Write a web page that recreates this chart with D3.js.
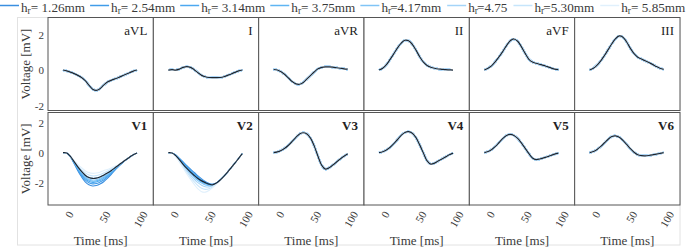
<!DOCTYPE html>
<html><head><meta charset="utf-8">
<script src="https://cdn.jsdelivr.net/npm/d3@7"></script>
<style>
html,body{margin:0;padding:0;background:#fff;}
svg{display:block;}
</style></head>
<body>
<svg id="chart" width="698" height="249"></svg>
<script>
// ---------------- data ----------------
const time = [0,5,10,15,20,25,30,35,40,45,50,55,60,65,70,75,80,85,90,95,100];
const leadsTop = ["aVL","I","aVR","II","aVF","III"];
const leadsBottom = ["V1","V2","V3","V4","V5","V6"];
const hrValues = ["1.26mm","2.54mm","3.14mm","3.75mm","4.17mm","4.75","5.30mm","5.85mm"];
const hrTight = [false,false,false,false,true,true,true,false];
const hrColors = ["#3a8fe0","#409ce9","#4ca8f0","#5fb5f3","#80c4f6","#a4d4f8","#c6e5fb","#e0f0fc"];
const yTicks = [-2,0,2];
const xTicks = [0,50,100];

// reference (black) traces, mV
const aVL = [0,-0.05,-0.12,-0.2,-0.3,-0.42,-0.6,-0.85,-1.08,-1.15,-1.05,-0.85,-0.68,-0.58,-0.5,-0.42,-0.33,-0.24,-0.15,-0.06,0];
const leadI = [0,0.02,0.0,0.05,0.15,0.19,0.15,0.02,-0.15,-0.3,-0.38,-0.42,-0.43,-0.43,-0.42,-0.38,-0.3,-0.22,-0.13,-0.05,0];
const aVR = [0.03,0.0,-0.1,-0.25,-0.45,-0.65,-0.78,-0.8,-0.7,-0.5,-0.3,-0.1,0.07,0.15,0.18,0.18,0.16,0.13,0.1,0.07,0.05];
const leadII = [0,0.1,0.3,0.6,0.92,1.25,1.52,1.68,1.65,1.45,1.12,0.75,0.45,0.26,0.16,0.1,0.06,0.04,0.02,0.01,0];
const aVF = [0,0.1,0.25,0.48,0.75,1.05,1.38,1.65,1.75,1.62,1.32,0.95,0.62,0.45,0.38,0.32,0.26,0.19,0.12,0.05,0.02];
const leadIII = [0,0.1,0.28,0.52,0.82,1.15,1.48,1.77,1.92,1.85,1.58,1.22,0.92,0.72,0.62,0.52,0.42,0.32,0.2,0.1,0.04];
const V1 = [0,-0.02,-0.25,-0.6,-0.95,-1.25,-1.5,-1.66,-1.72,-1.7,-1.62,-1.5,-1.36,-1.2,-1.02,-0.84,-0.65,-0.47,-0.3,-0.14,-0.02];
const V2 = [0,-0.02,-0.2,-0.48,-0.78,-1.05,-1.3,-1.52,-1.72,-1.88,-2.0,-2.1,-2.14,-2.03,-1.83,-1.58,-1.3,-1.0,-0.7,-0.38,-0.07];
const V3 = [0,0.05,0.15,0.3,0.5,0.75,1.02,1.25,1.33,1.25,0.95,0.42,-0.25,-0.85,-1.1,-1.0,-0.82,-0.62,-0.42,-0.24,-0.08];
const V4 = [0,0.06,0.18,0.36,0.6,0.88,1.15,1.35,1.4,1.3,1.0,0.52,-0.02,-0.55,-0.76,-0.7,-0.56,-0.42,-0.28,-0.14,-0.03];
const V5 = [0,0.08,0.22,0.42,0.68,0.95,1.15,1.22,1.15,0.95,0.65,0.3,-0.05,-0.35,-0.46,-0.42,-0.35,-0.27,-0.19,-0.1,-0.03];
const V6 = [0,0.08,0.22,0.42,0.66,0.9,1.08,1.12,1.03,0.82,0.55,0.27,0.03,-0.14,-0.2,-0.21,-0.19,-0.15,-0.1,-0.05,0];

// V1 traces for each h_r
const V1_126 = [0,-0.02,-0.28,-0.72,-1.20,-1.61,-1.94,-2.14,-2.22,-2.19,-2.09,-1.94,-1.71,-1.46,-1.18,-0.93,-0.69,-0.48,-0.30,-0.14,-0.02];
const V1_254 = [0,-0.02,-0.27,-0.69,-1.13,-1.51,-1.82,-2.01,-2.08,-2.06,-1.96,-1.82,-1.62,-1.39,-1.14,-0.90,-0.68,-0.48,-0.30,-0.14,-0.02];
const V1_314 = [0,-0.02,-0.27,-0.66,-1.08,-1.44,-1.73,-1.91,-1.98,-1.96,-1.86,-1.73,-1.54,-1.34,-1.10,-0.88,-0.67,-0.48,-0.30,-0.14,-0.02];
const V1_375 = [0,-0.02,-0.26,-0.64,-1.04,-1.38,-1.66,-1.83,-1.90,-1.88,-1.79,-1.66,-1.49,-1.29,-1.08,-0.87,-0.66,-0.47,-0.30,-0.14,-0.02];
const V1_417 = [0,-0.02,-0.25,-0.62,-1.00,-1.32,-1.59,-1.76,-1.82,-1.80,-1.71,-1.59,-1.43,-1.25,-1.05,-0.86,-0.65,-0.47,-0.30,-0.14,-0.02];
const V1_475 = [0,-0.02,-0.25,-0.59,-0.94,-1.24,-1.48,-1.64,-1.70,-1.68,-1.60,-1.48,-1.35,-1.19,-1.01,-0.84,-0.65,-0.47,-0.30,-0.14,-0.02];
const V1_530 = [0,-0.02,-0.24,-0.56,-0.86,-1.13,-1.35,-1.49,-1.55,-1.53,-1.46,-1.35,-1.24,-1.11,-0.96,-0.81,-0.64,-0.47,-0.30,-0.14,-0.02];
const V1_585 = [0,-0.02,-0.23,-0.52,-0.78,-1.00,-1.20,-1.33,-1.38,-1.36,-1.30,-1.20,-1.12,-1.02,-0.91,-0.78,-0.62,-0.46,-0.30,-0.14,-0.02];

// V2 traces for each h_r
const V2_126 = [0,-0.02,-0.15,-0.38,-0.62,-0.87,-1.10,-1.32,-1.55,-1.75,-1.92,-2.05,-2.10,-2.02,-1.82,-1.58,-1.30,-1.00,-0.70,-0.38,-0.07];
const V2_254 = [0,-0.02,-0.16,-0.40,-0.66,-0.92,-1.16,-1.40,-1.62,-1.82,-1.98,-2.08,-2.12,-2.02,-1.83,-1.58,-1.30,-1.00,-0.70,-0.38,-0.07];
const V2_314 = [0,-0.02,-0.17,-0.43,-0.70,-0.97,-1.22,-1.46,-1.68,-1.87,-2.02,-2.12,-2.14,-2.03,-1.83,-1.58,-1.30,-1.00,-0.70,-0.38,-0.07];
const V2_375 = [0,-0.02,-0.19,-0.46,-0.75,-1.03,-1.30,-1.55,-1.77,-1.95,-2.08,-2.15,-2.14,-2.03,-1.83,-1.58,-1.30,-1.00,-0.70,-0.38,-0.07];
const V2_417 = [0,-0.02,-0.20,-0.50,-0.80,-1.10,-1.38,-1.64,-1.86,-2.03,-2.15,-2.20,-2.16,-2.04,-1.84,-1.58,-1.30,-1.00,-0.70,-0.38,-0.07];
const V2_475 = [0,-0.02,-0.22,-0.54,-0.87,-1.20,-1.50,-1.78,-2.00,-2.17,-2.27,-2.28,-2.20,-2.06,-1.85,-1.58,-1.30,-1.00,-0.70,-0.38,-0.07];
const V2_530 = [0,-0.02,-0.24,-0.58,-0.94,-1.30,-1.63,-1.94,-2.20,-2.38,-2.45,-2.40,-2.27,-2.08,-1.86,-1.58,-1.30,-1.00,-0.70,-0.38,-0.07];
const V2_585 = [0,-0.02,-0.26,-0.63,-1.02,-1.42,-1.78,-2.12,-2.42,-2.60,-2.63,-2.52,-2.33,-2.10,-1.87,-1.58,-1.30,-1.00,-0.70,-0.38,-0.07];

const refTraces = {aVL:aVL, I:leadI, aVR:aVR, II:leadII, aVF:aVF, III:leadIII, V1:V1, V2:V2, V3:V3, V4:V4, V5:V5, V6:V6};
// per-h_r traces; where the simulations coincide with the reference, the reference trace is reused
const variantTraces = {
  V1:[V1_126,V1_254,V1_314,V1_375,V1_417,V1_475,V1_530,V1_585],
  V2:[V2_126,V2_254,V2_314,V2_375,V2_417,V2_475,V2_530,V2_585]
};

// ---------------- layout ----------------
const FONT = "'Liberation Serif', serif";
const svg = d3.select("#chart").attr("font-family", FONT);
const left = 48, right = 680, nCols = 6;
const colW = (right-left)/nCols;
const rows = [
  {leads: leadsTop, top: 17.5, bottom: 110.5, ydom: [-2.28, 2.96], bold:false},
  {leads: leadsBottom, top: 112.5, bottom: 205, ydom: [-3.49, 2.68], bold:true}
];
const xDomain = [-20.3, 122.1];
const ink = "#1c2530";
const frame = "#555";
const txt = "#3a3a3a";

// outer light frame
svg.append("rect").attr("x",17.5).attr("y",17.5).attr("width",680-17.5).attr("height",245-17.5)
  .attr("fill","none").attr("stroke","#e2e2e2").attr("stroke-width",1);

rows.forEach((row, ri) => {
  const y = d3.scaleLinear().domain(row.ydom).range([row.bottom, row.top]);
  row.leads.forEach((lead, ci) => {
    const x0 = left + ci*colW;
    const x = d3.scaleLinear().domain(xDomain).range([x0, x0+colW]);
    const g = svg.append("g");
    g.append("rect").attr("x",x0).attr("y",row.top).attr("width",colW).attr("height",row.bottom-row.top)
      .attr("fill","#fff");
    const line = d3.line().x((d,i)=>x(time[i])).y(d=>y(d)).curve(d3.curveCatmullRom.alpha(0.5));
    const variants = variantTraces[lead] || hrValues.map(()=>refTraces[lead]);
    variants.forEach((tr, k) => {
      g.append("path").attr("d", line(tr)).attr("fill","none")
        .attr("stroke", hrColors[k]).attr("stroke-width", variantTraces[lead] ? 1.1 : 2.0);
    });
    g.append("path").attr("d", line(refTraces[lead])).attr("fill","none")
      .attr("stroke", ink).attr("stroke-width", 1.2);
    g.append("rect").attr("x",x0).attr("y",row.top).attr("width",colW).attr("height",row.bottom-row.top)
      .attr("fill","none").attr("stroke",frame).attr("stroke-width",1);
    g.append("text").attr("x", x0+colW-6).attr("y", row.top+17.5)
      .attr("text-anchor","end").attr("font-size",13).attr("font-family",FONT)
      .attr("font-weight", row.bold ? "bold" : "normal")
      .attr("fill","#222").text(lead);

    if (ci === 0) {
      const ax = svg.append("g").attr("transform",`translate(${x0},0)`)
        .call(d3.axisLeft(y).tickValues(yTicks).tickSize(0).tickPadding(4).tickFormat(d=>String(d)));
      ax.attr("font-family",FONT);
      ax.select(".domain").remove();
      ax.selectAll("text").attr("font-size",11).attr("font-family",FONT).attr("fill",txt);
      svg.append("text").attr("transform",`translate(30,${(row.top+row.bottom)/2}) rotate(-90)`)
        .attr("text-anchor","middle").attr("font-size",13).attr("font-family",FONT)
        .attr("fill",txt).text("Voltage [mV]");
    }
    if (ri === 1) {
      const ax = svg.append("g").attr("transform",`translate(0,${row.bottom})`)
        .call(d3.axisBottom(x).tickValues(xTicks).tickSize(0).tickFormat(d=>String(d)));
      ax.attr("font-family",FONT);
      ax.select(".domain").remove();
      ax.selectAll("text").attr("y",0).attr("dy",null).attr("x",0)
        .attr("text-anchor","end").attr("dominant-baseline","central")
        .attr("transform","translate(7,7) rotate(-60)")
        .attr("font-size",11).attr("font-family",FONT).attr("fill",txt);
      svg.append("text").attr("x", x0+colW/2).attr("y", 244.5).attr("text-anchor","middle")
        .attr("font-size",13).attr("font-family",FONT).attr("fill",txt).text("Time [ms]");
    }
  });
});

// ---------------- legend ----------------
const leg = svg.append("g");
let lx = 0;
hrValues.forEach((v, k) => {
  leg.append("line").attr("x1",lx).attr("x2",lx+19).attr("y1",5.5).attr("y2",5.5)
    .attr("stroke",hrColors[k]).attr("stroke-width",1.5);
  const t = leg.append("text").attr("x", lx+21).attr("y",11.5).attr("font-size",13.2)
    .attr("font-family",FONT).attr("fill",txt);
  t.append("tspan").text("h");
  t.append("tspan").attr("font-size",9.5).attr("dy",2.5).text("r");
  if (hrTight[k]) {
    t.append("tspan").attr("dy",-2.5).attr("dx",-1).text("=");
    t.append("tspan").text(v);
  } else {
    t.append("tspan").attr("dy",-2.5).text("= " + v);
  }
  const w = t.node().getComputedTextLength();
  lx += 21 + w + 5;
});
</script>
</body></html>
